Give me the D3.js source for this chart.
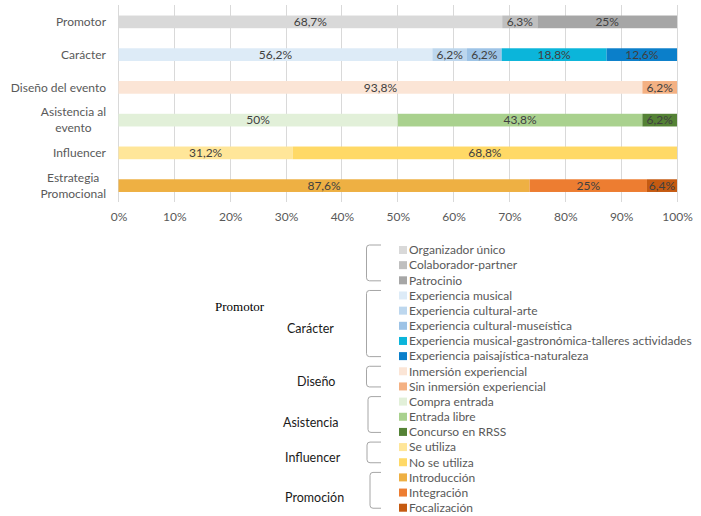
<!DOCTYPE html>
<html>
<head>
<meta charset="utf-8">
<script src="https://cdn.jsdelivr.net/npm/d3@7"></script>
<style>
  html, body { margin: 0; padding: 0; background: #fff; }
  svg { display: block; font-family: Lato, "Noto Sans", sans-serif; }
</style>
</head>
<body>
<svg id="chart" width="701" height="516"></svg>
<script>
// Categories shown on the vertical axis
const categories = ["Promotor", "Carácter", "Diseño del evento", "Asistencia al evento", "Influencer", "Estrategia Promocional"];
const categoryLines = [["Promotor"], ["Carácter"], ["Diseño del evento"], ["Asistencia al", "evento"], ["Influencer"], ["Estrategia", "Promocional"]];

// Segment values (percent) for each bar
const promotorValues    = [68.7, 6.3, 25];
const caracterValues    = [56.2, 6.2, 6.2, 18.8, 12.6];
const disenoValues      = [93.8, 6.2];
const asistenciaValues  = [50, 43.8, 6.2];
const influencerValues  = [31.2, 68.8];
const promocionValues   = [87.6, 25, 6.4];

// Segment names (legend entries)
const promotorNames   = ["Organizador único", "Colaborador-partner", "Patrocinio"];
const caracterNames   = ["Experiencia musical", "Experiencia cultural-arte", "Experiencia cultural-museística", "Experiencia musical-gastronómica-talleres actividades", "Experiencia paisajística-naturaleza"];
const disenoNames     = ["Inmersión experiencial", "Sin inmersión experiencial"];
const asistenciaNames = ["Compra entrada", "Entrada libre", "Concurso en RRSS"];
const influencerNames = ["Se utiliza", "No se utiliza"];
const promocionNames  = ["Introducción", "Integración", "Focalización"];

// Legend group headings
const groupNames = ["Promotor", "Carácter", "Diseño", "Asistencia", "Influencer", "Promoción"];

// Axis ticks
const tickValues = [0, 0.1, 0.2, 0.3, 0.4, 0.5, 0.6, 0.7, 0.8, 0.9, 1];

// Segment colours
const promotorColors   = ["#d9d9d9", "#bfbfbf", "#a6a6a6"];
const caracterColors   = ["#ddebf7", "#bdd7ee", "#9dc3e6", "#0bb5da", "#0b7fca"];
const disenoColors     = ["#fbe5d6", "#f4b183"];
const asistenciaColors = ["#e2f0d9", "#a9d18e", "#548235"];
const influencerColors = ["#ffe699", "#ffd966"];
const promocionColors  = ["#eeb043", "#ed7d31", "#c55a11"];

const valueSets = [promotorValues, caracterValues, disenoValues, asistenciaValues, influencerValues, promocionValues];
const nameSets  = [promotorNames, caracterNames, disenoNames, asistenciaNames, influencerNames, promocionNames];
const colorSets = [promotorColors, caracterColors, disenoColors, asistenciaColors, influencerColors, promocionColors];

const svg = d3.select("#chart");

// ---------- 100% stacked bar chart ----------
const x = d3.scaleLinear().domain([0, 1]).range([118.5, 677]);
const y = d3.scaleBand().domain(categories).range([5.5, 202]).paddingInner(0.612).paddingOuter(0.306);

// gridlines
svg.append("g").selectAll("line").data(tickValues).join("line")
  .attr("x1", d => x(d)).attr("x2", d => x(d))
  .attr("y1", 5).attr("y2", 202)
  .attr("stroke", "#d9d9d9").attr("stroke-width", 1)
  .attr("shape-rendering", "crispEdges");

// build segments: each bar is normalised to its own total
const segments = [];
categories.forEach((cat, i) => {
  const vals = valueSets[i];
  const total = d3.sum(vals);
  let acc = 0;
  vals.forEach((v, j) => {
    segments.push({cat, value: v, x0: acc / total, x1: (acc + v) / total, color: colorSets[i][j]});
    acc += v;
  });
});

svg.append("g").selectAll("rect").data(segments).join("rect")
  .attr("x", d => x(d.x0))
  .attr("width", d => x(d.x1) - x(d.x0))
  .attr("y", d => y(d.cat))
  .attr("height", y.bandwidth())
  .attr("fill", d => d.color);

const fmt = v => String(v).replace(".", ",") + "%";
svg.append("g").selectAll("text").data(segments).join("text")
  .attr("x", d => (x(d.x0) + x(d.x1)) / 2)
  .attr("y", d => y(d.cat) + y.bandwidth() / 2)
  .attr("dy", "0.36em")
  .attr("text-anchor", "middle")
  .attr("font-size", 12)
  .attr("fill", "#404040")
  .text(d => fmt(d.value));

// x axis labels
const xAxis = d3.axisBottom(x).tickValues(tickValues).tickSize(0).tickPadding(0).tickFormat(d3.format(".0%"));
const gx = svg.append("g").attr("transform", "translate(0,212)").call(xAxis);
gx.attr("font-family", null).attr("font-size", null);
gx.select(".domain").remove();
gx.selectAll("text").style("font-family", "Lato, sans-serif").attr("font-size", 12).attr("fill", "#595959");

// category labels (multi-line labels are centred on their block)
categoryLines.forEach((lines, i) => {
  const cy = y(categories[i]) + y.bandwidth() / 2;
  const g = svg.append("g");
  const n = lines.length;
  const texts = lines.map((ln, k) => g.append("text")
    .attr("y", cy + (k - (n - 1) / 2) * 16)
    .attr("dy", "0.36em")
    .attr("font-size", 12)
    .attr("fill", "#595959")
    .text(ln));
  if (n === 1) {
    texts[0].attr("x", 106).attr("text-anchor", "end");
  } else {
    const w = d3.max(texts, t => t.node().getComputedTextLength());
    texts.forEach(t => t.attr("x", 106 - w / 2).attr("text-anchor", "middle"));
  }
});

// ---------- grouped legend ----------
const legendItems = [];
nameSets.forEach((names, gi) => names.forEach((nm, j) => legendItems.push({name: nm, color: colorSets[gi][j], group: gi})));
const rowY = i => 250 + i * 15.16;

const lg = svg.append("g");
lg.selectAll("rect").data(legendItems).join("rect")
  .attr("x", 399).attr("y", (d, i) => rowY(i) - 4)
  .attr("width", 8).attr("height", 8)
  .attr("fill", d => d.color);
lg.selectAll("text").data(legendItems).join("text")
  .attr("x", 409).attr("y", (d, i) => rowY(i))
  .attr("dy", "0.36em")
  .attr("font-size", 12)
  .attr("fill", "#595959")
  .text(d => d.name);

// brackets and group headings
const groupLayout = [
  {bx: 366.5, lx: 215, ly: 306, serif: true},
  {bx: 366.5, lx: 287, ly: 328},
  {bx: 366.5, lx: 297, ly: 381},
  {bx: 368,   lx: 283, ly: 422},
  {bx: 367,   lx: 285, ly: 457},
  {bx: 370,   lx: 285, ly: 497}
];
let start = 0;
nameSets.forEach((names, gi) => {
  const first = start, last = start + names.length - 1;
  start += names.length;
  const L = groupLayout[gi];
  const top = rowY(first) - 5, bot = rowY(last) + 0.5, r = 3, xr = 381;
  const p = d3.path();
  p.moveTo(xr, top);
  p.lineTo(L.bx + r, top);
  p.quadraticCurveTo(L.bx, top, L.bx, top + r);
  p.lineTo(L.bx, bot - r);
  p.quadraticCurveTo(L.bx, bot, L.bx + r, bot);
  p.lineTo(xr, bot);
  svg.append("path").attr("d", p.toString())
    .attr("fill", "none").attr("stroke", "#a6a6a6").attr("stroke-width", 1);
  svg.append("text")
    .attr("x", L.lx).attr("y", L.ly).attr("dy", "0.36em")
    .style("font-family", L.serif ? "'Liberation Serif', 'DejaVu Serif', serif" : "Lato, sans-serif")
    .attr("font-size", L.serif ? 13 : 12.5)
    .attr("fill", L.serif ? "#000" : "#1a1a1a")
    .text(groupNames[gi]);
});
</script>
</body>
</html>
